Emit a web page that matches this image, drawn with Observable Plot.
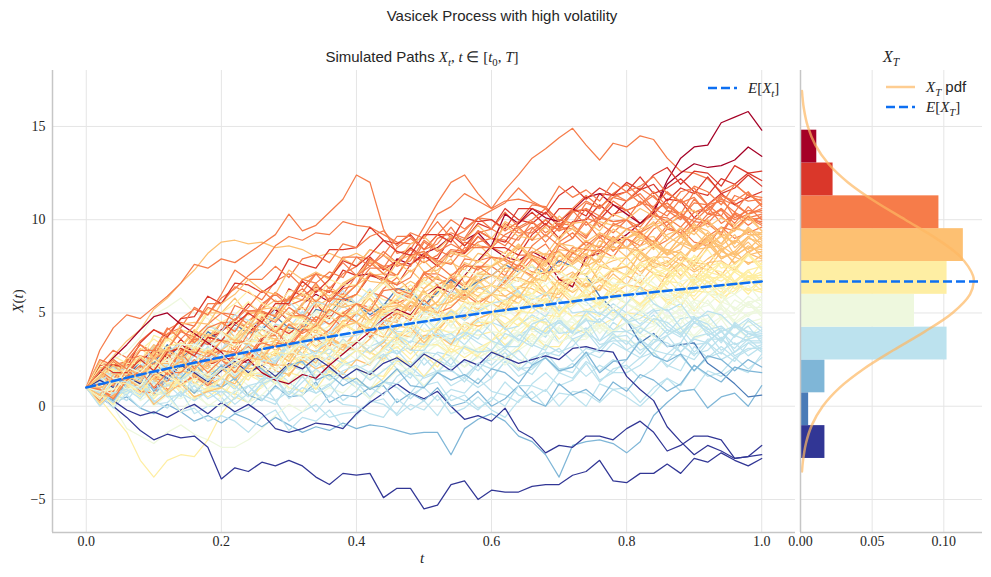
<!DOCTYPE html>
<html>
<head>
<meta charset="utf-8">
<script src="https://cdn.jsdelivr.net/npm/d3@7"></script>
<script src="https://cdn.jsdelivr.net/npm/@observablehq/plot@0.6"></script>
<style>
  body { margin: 0; background: #fff; }
  #fig { position: relative; width: 991px; height: 577px; overflow: hidden; background: #fff; }
  #fig svg { position: absolute; top: 0; }
</style>
</head>
<body>
<div id="fig"></div>
<script>
// Simulated Vasicek paths: X(t) in tenths at t = 0.02, 0.04, ..., 1.00 (all start at x0)
const dt = 0.02;
const x0 = 1;

const pathsDarkBlue = [
  "5 0 -6 -13 -18 -15 -17 -16 -22 -39  -33 -35 -30 -32 -29 -32 -38 -42 -36 -37  -36 -49 -44 -44 -55 -53 -42 -40 -50 -45  -46 -46 -43 -42 -42 -37 -35 -29 -40 -41  -36 -36 -31 -36 -28 -30 -25 -29 -32 -28",
  "8 3 -2 -5 -3 -6 -2 1 -4 2  -3 1 -4 -12 -14 -12 -9 -10 -12 -4  2 7 12 7 4 8 0 -7 -5 -8  -1 -13 -17 -25 -21 -22 -16 -16 -18 -12  -8 -14 -24 -21 -16 -16 -18 -28 -27 -21",
  "14 10 16 12 19 15 22 18 13 19  24 18 22 16 23 20 26 21 15 20  17 23 26 21 28 24 19 25 22 29  26 23 25 27 25 31 32 30 29 16  9 3 -11 -19 -26 -21 -24 -28 -27 -26"
];
const pathsBlue = [
  "18 22 16 24 23 33 26 31 40 35  44 39 41 48 42 41 52 50 58 55  49 54 63 62 54 61 68 62 67 70  76 72 75 71 78 75 70 59 52 46  34 39 32 33 34 23 18 12 5 6"
];
const pathsMidBlue = [
  "7 2 5 -1 -4 1 -3 -8 -5 -9  -4 -7 -11 -6 -10 -14 -11 -13 -9 -12  -10 -11 -13 -15 -14 -14 -26 -12 -7 -4  -8 -16 -19 -26 -38 -21 -19 -18 -20 -25  -19 -5 2 8 9 -1 5 7 0 11",
  "20 13 10 15 6 14 13 7 14 10  15 6 3 11 5 6 13 2 6 5  10 11 2 7 3 10 0 2 8 0  4 11 3 0 12 6 9 3 13 8  17 14 8 12 22 17 13 21 19 18",
  "8 3 13 18 8 16 15 23 15 22  14 23 20 14 22 24 14 17 11 15  9 13 20 11 10 18 14 17 12 20  18 12 22 26 19 21 29 18 24 25  35 27 24 28 19 27 25 19 25 21"
];
const pathsLightBlue = [
  "17 12 6 14 16 7 12 8 14 5  -4 -1 6 3 -8 -3 1 -6 -4 -3  2 4 -5 1 -2 6 -4 -1 5 -2  -6 3 8 0 7 6 0 12 9 10  2 10 15 11 22 16 18 26 20 26",
  "14 21 15 12 24 18 21 17 27 22  24 29 19 14 22 19 11 21 15 13  5 13 10 4 11 13 3 6 -1 3  13 6 4 9 0 8 7 2 9 5  0 7 15 8 9 19 16 21 18 28",
  "8 18 24 17 26 26 22 34 33 35  41 45 37 44 42 51 42 46 54 48  54 48 40 40 48 40 33 39 34 30  26 19 26 29 20 21 27 14 18 18  22 29 22 19 32 26 29 24 34 29",
  "2 6 14 12 2 8 13 7 10 12  21 19 14 25 29 23 30 28 36 30  39 31 28 32 22 29 27 21 27 22  29 20 21 26 18 15 24 19 25 20  26 29 21 28 25 34 25 29 36 30",
  "6 -1 7 10 1 2 8 -4 0 0  4 11 4 1 13 7 10 5 15 10  4 13 12 7 16 19 11 15 10 15  24 21 17 27 31 24 31 29 37 30  35 27 24 33 28 30 37 27 31 31",
  "7 7 18 14 20 14 26 25 21 30  42 36 35 41 34 43 44 39 48 45  41 49 53 44 51 49 43 53 50 50  41 43 49 45 34 38 42 33 35 35  28 36 34 29 37 39 30 34 27 32",
  "2 9 6 -1 6 7 -3 -1 -8 -5  -8 -14 -6 -2 -13 -6 -8 -2 -11 -5  3 1 -4 6 10 3 9 7 15 8  6 2 12 18 11 14 23 13 20 22  15 20 28 27 19 26 32 26 30 33",
  "21 14 12 17 9 17 17 11 19 15  9 18 17 12 21 24 16 20 15 20  14 19 25 17 16 25 21 24 19 28  32 39 33 30 42 36 39 35 45 40  36 30 38 42 33 34 41 29 34 34",
  "15 7 3 12 6 8 15 4 8 8  7 2 13 19 13 16 25 16 22 25  32 35 28 35 33 42 34 38 46 40  31 38 42 37 47 39 41 47 41 45  51 46 39 47 48 38 42 38 43 34",
  "17 21 14 22 20 30 22 27 35 30  37 32 24 26 34 28 21 27 23 20  23 28 20 15 26 18 20 13 22 15  24 16 20 26 20 18 29 26 34 30  26 34 38 29 36 34 28 38 35 35",
  "13 19 10 6 14 12 5 16 11 10  4 11 13 3 8 5 -3 6 1 0  -4 -6 4 -2 3 -5 6 3 -2 5  0 11 11 8 18 23 16 22 18 25  36 30 28 34 27 36 36 31 39 36",
  "19 16 12 22 26 19 26 24 32 25  16 24 28 24 34 27 29 36 30 35  29 35 44 44 36 44 51 46 51 55  57 62 53 48 58 50 51 45 52 45  47 52 43 38 45 42 34 45 39 37",
  "16 6 8 12 3 -1 7 3 8 2  8 11 3 10 7 16 7 11 18 12  10 6 16 21 15 18 26 16 23 25  31 25 23 33 29 32 40 31 37 38  30 34 41 39 29 35 40 33 36 38",
  "16 25 20 19 33 29 34 31 43 40  49 46 42 52 56 49 56 54 62 55  63 54 57 62 55 52 62 58 65 60  69 61 57 61 51 58 56 49 55 50  44 51 52 42 47 44 36 44 39 38",
  "8 2 12 16 9 11 19 8 14 15  11 5 12 15 4 10 7 12 3 8  19 13 12 18 10 19 19 15 23 20  26 30 22 29 27 36 27 31 39 33  42 38 32 34 45 40 35 43 40 39",
  "7 17 21 14 22 22 17 28 26 28  21 30 29 24 32 35 26 31 25 30  25 30 38 30 30 39 36 40 36 45  42 35 44 47 39 40 47 35 40 40  43 49 41 37 48 41 43 37 46 40",
  "0 7 9 4 13 5 6 11 4 8  1 7 15 15 6 13 20 14 19 22  18 27 30 22 29 28 22 32 29 30  39 36 32 42 46 40 46 45 52 46  39 47 45 39 47 49 40 43 37 41",
  "4 14 13 9 18 22 14 19 14 20  25 33 25 23 33 33 28 40 37 38  41 46 38 34 45 37 39 33 41 35  32 32 43 39 45 39 51 50 46 55  64 55 51 55 45 51 49 42 47 42"
];
const pathsPaleGreen = [
  "6 0 -12 -16 -20 -14 -10 -15 -18 -22  -22 -18 -12 -5 1 -3 5 10 7 14  9 20 20 17 28 33 26 32 28 35  26 33 37 32 42 35 36 43 36 41  39 34 44 49 42 45 53 44 49 51",
  "4 10 19 19 11 19 26 21 26 30  28 23 33 38 31 34 42 32 38 40  44 35 31 39 32 33 39 28 31 30  37 40 33 41 39 48 40 45 52 47  40 43 49 40 38 45 40 43 36 44",
  "15 17 8 14 10 18 8 11 17 10  15 22 16 13 26 20 24 19 30 25  37 32 31 38 31 41 40 38 47 45  52 47 40 40 49 42 37 42 38 35  33 28 38 43 36 39 47 37 43 45",
  "16 25 29 37 49 53 58 50 47 39  32 40 38 32 40 43 33 37 30 35  32 26 34 38 27 34 32 38 29 35  43 40 35 45 48 41 47 45 52 45  37 41 49 47 37 43 48 42 45 47",
  "7 0 8 11 0 6 4 9 0 5  17 11 10 16 9 18 19 14 23 20  15 25 25 21 31 35 28 33 29 35  32 41 46 38 46 45 40 51 49 50  55 57 47 53 49 57 47 49 55 48",
  "19 17 13 24 28 22 29 28 36 30  27 26 37 32 38 31 43 41 37 45  44 39 50 55 49 52 61 51 58 60  63 68 60 55 66 58 60 53 62 55  61 52 53 58 49 45 54 49 55 49",
  "21 15 13 19 11 20 20 15 23 20  17 27 32 25 33 33 28 40 38 40  48 43 36 37 47 40 35 41 38 35  29 39 38 34 43 47 39 44 39 45  49 55 48 44 56 49 52 46 56 50",
  "4 8 15 6 5 13 9 12 7 15  20 21 12 17 13 20 10 12 18 10  4 12 19 19 11 19 26 21 26 30  22 30 35 31 42 35 38 45 40 45  43 37 47 52 45 47 55 45 50 52",
  "10 6 18 24 19 23 33 24 32 35  44 41 37 47 51 44 51 49 57 50  54 55 45 50 45 52 42 42 48 40  39 34 44 49 40 48 48 55 48 55  50 58 60 51 57 55 48 57 53 53",
  "16 9 7 17 12 15 23 14 19 20  24 31 23 20 29 28 22 34 30 30  39 37 33 44 48 42 49 48 56 50  43 48 56 55 46 53 59 53 57 60  69 62 58 63 53 60 59 52 59 54",
  "4 11 13 3 8 5 -3 6 1 0  9 2 6 13 7 6 17 15 23 20  24 30 23 19 31 24 27 21 31 25  25 21 33 39 34 38 48 39 47 50  46 44 54 48 53 45 56 53 48 55",
  "5 15 15 11 21 25 18 23 19 25  38 34 34 42 36 47 49 46 56 55  60 67 60 57 67 66 61 73 70 70  65 72 75 65 71 68 61 70 66 65  71 66 59 67 69 60 64 60 65 56",
  "19 15 9 11 22 16 12 19 17 15  20 27 21 18 31 25 29 24 35 30  22 30 35 31 42 35 38 45 40 45  51 54 46 53 50 59 51 54 61 55  52 46 56 60 52 54 61 51 56 57",
  "8 9 21 18 25 20 33 33 30 40  32 35 42 39 29 34 39 31 34 35  32 42 47 40 48 48 43 55 53 55  49 53 60 51 50 58 54 57 52 60  53 62 60 55 63 65 56 60 54 59"
];
const pathsYellow = [
  "4 -5 -14 -29 -38 -29 -26 -27 -18 -4  5 2 11 16 12 20 27 23 30 35  29 35 44 44 37 45 52 47 52 56  55 50 60 65 56 65 64 72 64 72  81 74 70 74 65 72 70 63 70 65",
  "16 24 19 17 31 26 31 27 39 35  42 35 34 44 40 43 52 43 49 50  62 57 56 63 56 66 67 63 72 70  66 59 67 70 61 62 68 56 60 60  68 64 57 59 70 64 59 66 63 61",
  "3 12 10 5 13 16 7 11 5 10  19 17 13 24 28 22 29 28 36 30  29 24 35 40 34 37 46 36 43 45  36 44 48 44 54 48 49 56 50 55  61 63 55 62 59 67 58 62 68 62",
  "5 10 18 10 10 19 16 20 16 25  35 27 24 28 19 26 25 18 25 20  17 16 27 22 28 21 33 31 27 35  40 48 42 40 53 48 52 48 59 55  51 60 63 55 62 61 55 65 62 63",
  "18 23 17 26 25 36 29 35 44 40  34 40 49 49 41 49 56 51 56 60  57 50 58 61 50 56 54 59 50 55  50 60 60 56 66 70 63 68 64 70  76 72 65 74 75 66 71 67 73 64",
  "20 12 9 13 4 11 10 3 10 5  14 6 10 16 10 8 19 16 24 20  17 27 32 25 33 33 28 40 38 40  33 38 46 45 36 43 49 43 47 50  55 62 56 53 66 61 64 60 70 66",
  "15 23 16 14 24 24 19 32 29 30  37 40 33 40 38 47 39 43 51 45  54 51 47 57 61 54 61 59 67 60  67 60 59 69 65 68 77 68 74 75  84 76 73 77 67 74 72 66 72 67",
  "6 15 19 11 18 17 11 22 19 20  19 14 25 30 24 27 36 26 33 35  28 36 34 28 36 38 29 32 26 30  25 31 39 32 32 42 39 44 40 50  49 45 54 60 51 60 60 67 60 68",
  "21 20 18 30 36 31 40 40 50 45  49 56 49 46 58 52 55 50 60 55  45 51 54 48 57 48 49 54 47 50  48 43 53 58 51 54 62 52 58 60  54 64 62 58 67 71 63 67 62 68",
  "6 4 14 8 13 5 16 13 8 15  10 18 21 12 18 16 9 19 15 15  9 15 24 24 16 24 31 26 31 35  43 47 41 49 48 58 51 56 65 60  64 71 63 60 69 67 61 73 69 69",
  "20 18 13 17 29 25 22 31 30 30  26 32 41 34 35 45 43 48 45 55  59 66 59 56 68 62 65 60 70 65  75 68 65 70 61 69 68 62 69 65  61 69 73 64 71 69 63 73 70 70",
  "7 1 10 14 6 8 15 4 9 10  6 17 18 15 26 31 25 31 28 35  45 43 38 42 54 50 47 56 55 55  64 64 60 71 73 67 74 73 81 75  65 71 74 68 77 69 69 75 67 71",
  "20 13 18 25 20 19 31 29 38 35  46 39 37 42 34 42 42 36 44 40  46 49 41 48 45 54 45 49 56 50  54 61 54 51 63 57 60 55 65 60  53 58 67 66 57 64 70 65 69 72",
  "17 27 23 23 38 35 41 39 52 50  55 62 55 52 62 61 56 68 65 65  60 67 70 60 66 63 56 65 61 60  56 55 65 60 65 58 69 67 62 70  77 74 68 77 80 72 77 74 81 73",
  "1 9 13 9 19 12 14 21 15 20  20 16 28 34 29 33 43 34 42 45  40 51 51 48 58 63 56 62 58 65  62 71 76 68 76 75 70 81 79 80  84 86 76 82 77 84 74 76 82 74",
  "17 20 13 20 18 27 19 23 31 25  23 17 26 30 20 27 26 32 24 30  25 31 39 32 32 42 39 44 40 50  44 49 58 57 49 56 63 57 62 65  63 58 68 73 66 69 77 67 73 75",
  "23 19 19 27 21 32 34 31 41 40  36 45 49 41 48 47 41 52 49 50  60 53 58 65 60 59 71 69 78 75  83 78 71 72 82 75 70 76 73 70  74 80 73 69 81 75 77 72 81 76",
  "4 13 12 7 16 19 11 15 10 15  23 27 21 29 28 38 31 36 45 40  46 38 36 45 40 42 50 40 45 45  57 51 50 56 49 58 59 54 63 60  55 60 68 61 61 70 67 72 67 77"
];
const pathsLightOrange = [
  "18 27 35 41 52 58 66 73 82 88  89 87 88 85 86 84 80 82 79 82  78 71 78 81 72 73 79 66 70 70  67 76 81 73 81 80 75 86 84 85  90 91 82 87 83 90 80 82 88 80",
  "8 3 13 18 11 14 22 12 18 20  26 34 29 27 41 36 41 37 49 45  42 41 52 47 53 46 58 56 52 60  54 64 63 59 68 72 64 69 64 70  66 75 78 70 77 76 70 80 77 78",
  "8 19 25 19 28 29 25 38 37 40  47 42 34 35 44 37 32 37 33 30  29 25 36 42 36 40 49 40 47 50  57 60 53 60 58 67 59 63 71 65  76 71 69 76 68 77 78 73 82 79",
  "17 10 9 19 15 18 27 18 24 25  35 33 30 41 46 40 48 47 56 50  45 51 61 61 54 62 70 65 71 75  79 86 78 75 84 83 77 89 85 85  78 86 84 78 86 89 79 83 76 81",
  "13 19 11 7 18 11 13 7 16 10  22 17 16 23 16 26 27 25 32 30  36 44 39 37 51 46 51 47 59 55  52 64 67 60 68 68 63 75 73 75  83 74 77 83 76 73 83 80 86 82",
  "7 19 21 19 31 37 32 39 37 45  37 46 51 48 59 57 56 64 59 65  70 71 62 67 63 70 60 62 68 60  59 55 65 71 62 71 71 79 72 80  72 77 84 82 73 79 84 77 81 83",
  "5 11 19 12 12 22 19 24 20 30  26 25 35 30 35 28 39 37 32 40  53 49 49 57 51 62 64 61 71 70  69 67 78 82 78 82 89 82 87 90  94 86 82 91 84 85 92 81 85 84",
  "14 21 14 11 23 17 20 15 25 20  15 22 32 33 26 35 43 39 45 50  45 55 55 51 61 65 58 63 59 65  59 63 70 61 60 68 64 67 62 70  77 80 73 80 78 87 79 83 91 85",
  "24 21 22 31 26 38 41 39 50 50  58 49 52 57 50 47 57 53 60 55  60 68 61 59 69 69 64 77 74 75  79 86 79 76 88 82 85 80 90 85  92 88 82 91 94 86 91 88 94 86",
  "16 18 10 16 13 21 12 15 22 15  12 22 27 20 28 28 23 35 33 35  29 34 43 42 34 41 48 42 47 50  42 50 55 51 62 55 58 65 60 65  64 60 71 77 72 76 85 76 83 86",
  "21 19 15 19 32 28 26 35 35 35  36 33 46 53 49 54 65 57 66 70  78 75 70 80 83 76 82 80 87 80  75 85 85 81 91 95 88 93 89 95  91 84 92 95 83 89 86 92 82 87",
  "9 4 15 20 14 17 26 16 23 25  18 22 28 19 17 25 20 23 17 25  22 32 37 30 38 38 33 45 43 45  51 59 54 52 66 61 66 62 74 70  82 77 75 82 75 85 86 81 90 88",
  "11 8 20 27 20 30 32 41 36 45  40 50 50 46 56 60 53 58 54 60  72 67 66 73 66 76 77 73 82 80  72 76 83 81 71 77 82 75 78 80  86 89 81 88 85 93 84 88 95 89",
  "7 17 22 15 23 23 18 30 28 30  35 45 38 36 44 44 39 52 49 50  58 50 53 59 52 50 60 57 64 60  70 69 66 78 83 78 86 86 95 90  93 99 91 87 98 91 93 87 96 90",
  "2 6 13 11 1 7 12 5 8 10  24 20 21 29 24 35 38 35 46 45  52 46 45 56 52 56 65 57 63 65  63 58 68 73 66 69 77 67 73 75  70 80 80 76 86 91 83 89 84 91",
  "10 12 26 24 33 29 44 45 44 55  60 68 62 60 73 68 72 68 79 75  84 81 77 87 91 84 91 89 97 90  99 95 89 91 102 96 92 99 97 95  90 97 100 91 97 94 87 97 92 92",
  "6 5 15 10 15 8 19 17 12 20  15 21 29 22 22 32 29 34 30 40  40 37 49 56 51 56 66 58 66 70  76 79 71 78 75 84 75 79 86 80  89 87 81 84 96 91 87 95 94 93",
  "6 17 18 15 26 31 25 31 28 35  32 42 47 40 48 48 43 55 53 55  46 53 57 52 62 54 56 62 56 60  66 74 69 67 81 76 81 77 89 85  83 78 87 92 85 88 96 85 91 93",
  "16 25 19 18 29 30 26 40 38 40  35 42 52 53 46 55 63 59 65 70  67 66 77 72 78 71 83 81 77 85  97 91 90 96 89 98 99 94 103 100  106 102 95 104 105 96 101 97 103 94",
  "15 22 16 13 26 20 24 19 30 25  32 26 25 36 32 36 45 37 43 45  41 53 54 52 63 69 63 70 67 75  80 87 80 77 87 86 81 93 90 90  95 98 89 96 92 100 91 94 101 94"
];
const pathsOrange = [
  "30 42 49 47 53 59 66 76 74 79  77 82 87 92 103 94 97 104 111 124  120 95 82 84 96 109 120 124 114 106  116 124 133 138 144 149 140 132 141 139  145 143 133 126 125 122 115 119 113 110",
  "22 30 26 35 41 38 47 52 49 58  63 70 76 86 91 89 93 92 99 97  96 92 88 87 91 103 107 114 110 106  110 111 109 106 97 104 110 106 114 119  112 105 109 103 99 106 111 108 103 105",
  "16 24 18 16 27 27 23 36 34 35  30 41 41 38 48 53 46 52 48 55  53 63 69 62 71 71 67 79 78 80  78 73 82 87 77 85 84 91 83 90  83 87 95 93 84 91 96 90 93 96",
  "1 8 12 7 17 9 11 17 11 15  21 29 24 22 36 31 36 32 44 40  48 52 46 54 53 63 56 61 70 65  74 74 70 81 83 77 84 83 91 85  93 85 89 95 88 86 96 94 101 97",
  "7 14 24 18 20 31 30 36 34 45  45 42 54 61 56 61 71 63 71 75  84 81 75 78 89 84 80 88 86 85  82 91 96 88 96 95 90 101 99 100  110 103 99 104 95 103 102 95 102 98",
  "5 16 16 13 23 28 21 27 23 30  29 27 35 41 32 41 41 49 42 50  61 59 55 59 72 68 66 75 75 75  70 81 81 78 88 93 86 92 88 95  98 105 96 93 101 99 93 104 100 99",
  "25 22 24 33 29 41 45 43 55 55  64 61 57 67 71 64 71 69 77 70  77 71 70 81 77 81 90 82 88 90  89 84 95 100 94 97 106 96 103 105  108 113 105 100 111 103 105 98 107 100",
  "19 11 15 21 15 13 24 21 29 25  20 27 37 38 31 40 48 44 50 55  60 67 61 58 71 65 69 64 75 70  65 71 79 72 72 82 79 84 80 90  86 95 99 91 99 98 92 103 100 101",
  "3 13 19 17 29 24 28 37 33 40  54 51 52 61 56 68 71 69 80 80  79 74 85 90 84 87 96 86 93 95  91 89 99 93 98 90 101 98 93 100  93 102 101 96 104 107 98 103 97 102",
  "4 9 16 8 7 16 12 16 11 20  28 32 26 34 33 43 36 41 50 45  37 45 50 46 57 50 53 60 55 60  67 76 72 71 86 82 88 85 98 95  93 88 97 102 95 98 106 95 101 103",
  "6 14 25 27 21 31 40 37 44 50  49 44 55 60 54 57 66 56 63 65  74 74 70 81 83 77 84 83 91 85  98 93 93 100 94 104 106 102 112 110  114 106 102 111 104 105 112 101 105 104",
  "8 8 20 16 23 17 30 29 26 35  34 35 48 45 53 48 62 62 60 70  75 83 77 75 88 83 87 83 94 90  86 95 99 91 98 97 91 102 99 100  93 97 105 103 94 101 106 100 103 106",
  "12 11 24 33 27 39 42 53 49 60  73 68 68 75 69 79 81 77 87 85  91 94 86 93 90 99 90 94 101 95  104 96 100 106 100 98 109 106 114 110  117 112 106 115 117 108 113 110 115 107",
  "9 5 16 22 16 20 29 20 27 30  28 39 45 39 48 49 45 58 57 60  71 69 65 69 82 78 76 85 85 85  92 96 89 97 95 105 97 102 110 105  108 115 107 103 115 108 110 104 114 108",
  "19 14 15 27 25 30 41 34 42 45  40 51 51 48 58 63 56 62 58 65  79 75 76 84 79 90 93 90 101 100  94 99 108 107 99 106 113 107 112 115  109 107 115 109 112 103 113 109 103 109",
  "9 4 14 19 10 18 18 25 18 25  18 28 34 32 44 39 43 52 48 55  51 62 63 60 71 76 70 76 73 80  79 75 86 92 86 90 99 90 97 100  96 105 109 101 109 108 102 113 110 111",
  "19 25 20 30 30 42 36 43 53 50  46 53 62 56 57 68 66 72 69 80  75 81 91 91 84 92 100 95 101 105  109 117 110 106 118 112 116 110 120 115  118 123 114 110 118 115 108 119 113 112"
];
const pathsRed = [
  "10 7 19 26 21 26 36 28 36 40  46 55 50 49 63 59 64 61 73 70  80 73 78 85 80 79 91 89 98 95  106 100 98 104 96 105 105 100 108 105  98 103 111 110 101 108 114 108 112 115",
  "4 9 18 17 9 16 23 17 22 25  26 23 36 43 39 44 55 47 56 60  70 68 65 76 81 75 83 82 91 85  85 81 92 98 90 99 100 108 102 110  116 119 110 117 114 123 114 117 124 118",
  "22 22 21 34 41 37 47 48 59 55  66 65 61 66 79 76 74 84 84 85  96 89 87 92 84 92 92 86 94 90  88 98 104 97 106 106 102 114 113 115  123 114 117 122 115 113 122 119 125 121",
  "23 18 18 25 19 29 31 27 37 35  44 50 45 55 55 67 61 68 78 75  81 89 83 81 92 92 88 101 99 100  95 106 106 103 113 118 111 117 113 120  116 124 128 119 126 125 118 129 125 126"
];
const pathsDarkRed = [
  "16 21 15 24 30 26 33 29 36 41  45 39 47 52 46 55 60 56 64 70  71 67 79 76 82 85 91 89 93 85  80 78 83 79 68 64 80 82 87 92  98 105 121 133 139 140 152 155 158 148",
  "18 26 33 41 48 50 44 39 34 29  21 25 18 14 12 17 15 22 28 34  40 47 52 49 58 64 61 70 78 86  103 98 106 101 99 105 112 114 108 103  98 104 119 125 130 128 129 132 139 134"
];

// RdYlBu (reversed) sampled at ten steps, one per histogram bin of X_T
const binColors = ["#313695", "#4a7bb7", "#7fb6d7", "#bce2ee", "#eef8de",
                   "#feeea3", "#fdc072", "#f67c4a", "#da372a", "#a50026"];

// Expected value E[X_t]
const meanTimes = [0, 0.1, 0.2, 0.3, 0.4, 0.5, 0.6, 0.7, 0.8, 0.9, 1.0];
const meanValues = [1.00, 1.86, 2.63, 3.33, 3.97, 4.54, 5.06, 5.53, 5.96, 6.34, 6.69];
const meanAtT = 6.69;

// Density of X_T
const pdfLevels = [-3.5, -3, -2, -1, 0, 1, 2, 3, 4, 5, 6, 6.69, 7, 8, 9, 10, 11, 12, 13, 14, 15, 16, 16.9];
const pdfDensity = [0.00103, 0.00162, 0.00377, 0.00800, 0.01549, 0.02735, 0.04404, 0.06471, 0.08672,
                    0.10604, 0.11829, 0.12090, 0.12037, 0.11174, 0.09463, 0.07311, 0.05153, 0.03313,
                    0.01943, 0.01040, 0.00508, 0.00226, 0.00101];

const xTicks = [0, 0.2, 0.4, 0.6, 0.8, 1.0];
const yTicks = [-5, 0, 5, 10, 15];
const densityTicks = [0, 0.05, 0.10];

// ---------------------------------------------------------------------------
const groups = [pathsDarkBlue, pathsBlue, pathsMidBlue, pathsLightBlue, pathsPaleGreen,
                pathsYellow, pathsLightOrange, pathsOrange, pathsRed, pathsDarkRed];

const paths = [];
groups.forEach((g, b) => g.forEach((s, j) => {
  const tenths = s.trim().split(/\s+/).map(Number);
  if (tenths.length !== 50) throw new Error(`group ${b} path ${j} has ${tenths.length} values`);
  // spread every group evenly through the drawing order
  paths.push({tenths, key: (j + 0.5) / g.length + b * 0.0137});
}));
paths.sort((a, b) => a.key - b.key);

const N = paths.length;
const nBins = 10;
const finalT = paths.map(p => p.tenths[p.tenths.length - 1]);
const loT = d3.min(finalT), hiT = d3.max(finalT);
const binOf = v => Math.min(nBins - 1, Math.floor((v - loT) * nBins / (hiT - loT)));
const binWidth = (hiT - loT) / 10 / nBins;

const rows = [];
paths.forEach((p, i) => {
  const c = binColors[binOf(finalT[i])];
  rows.push({id: i, t: 0, x: x0, c});
  p.tenths.forEach((v, k) => rows.push({id: i, t: (k + 1) * dt, x: v / 10, c}));
});

const counts = new Array(nBins).fill(0);
finalT.forEach(v => counts[binOf(v)]++);
const bars = counts.map((n, k) => ({
  y1: loT / 10 + k * binWidth, y2: loT / 10 + (k + 1) * binWidth,
  d0: 0, d: n / (N * binWidth), c: binColors[k]
}));

const meanRows = meanTimes.map((t, i) => ({t, m: meanValues[i]}));
const pdfRows = pdfLevels.map((y, i) => ({y, d: pdfDensity[i]}));

const yDomain = [-6.77, 18.0];
const blue = "#0d6ff2";
const gridColor = "#e5e5e5";
const spineColor = "#c6c6c6";
const axisStyle = {fontFamily: "'Liberation Serif', serif", fontSize: "14px", color: "#262626", background: "transparent"};

const left = Plot.plot({
  width: 797, height: 577,
  marginLeft: 52, marginRight: 2, marginTop: 70, marginBottom: 45,
  x: {domain: [-0.05, 1.05], ticks: xTicks, tickFormat: d => d.toFixed(1), tickSize: 0, tickPadding: 4, label: null},
  y: {domain: yDomain, ticks: yTicks, tickSize: 0, tickPadding: 7, label: null},
  color: {type: "identity"},
  style: axisStyle,
  marks: [
    Plot.ruleX(xTicks, {stroke: gridColor, strokeWidth: 1}),
    Plot.ruleY(yTicks, {stroke: gridColor, strokeWidth: 1}),
    Plot.ruleX([-0.05], {stroke: spineColor, strokeWidth: 1.5}),
    Plot.ruleY([yDomain[0]], {stroke: spineColor, strokeWidth: 1.5}),
    Plot.line(rows, {x: "t", y: "x", z: "id", stroke: "c", strokeWidth: 1.25}),
    Plot.line(meanRows, {x: "t", y: "m", stroke: blue, strokeWidth: 2.5, strokeDasharray: "9,4", curve: "monotone-x"})
  ]
});

const right = Plot.plot({
  width: 216, height: 577,
  marginLeft: 25, marginRight: 9, marginTop: 70, marginBottom: 45,
  x: {domain: [0, 0.127], ticks: densityTicks, tickFormat: d => d.toFixed(2), tickSize: 0, tickPadding: 4, label: null},
  y: {domain: yDomain, axis: null},
  color: {type: "identity"},
  style: axisStyle,
  marks: [
    Plot.ruleX(densityTicks, {stroke: gridColor, strokeWidth: 1}),
    Plot.ruleY(yTicks, {stroke: gridColor, strokeWidth: 1}),
    Plot.rectX(bars, {x1: "d0", x2: "d", y1: "y1", y2: "y2", fill: "c", inset: 0}),
    Plot.line(pdfRows, {x: "d", y: "y", stroke: "#fdb862", strokeOpacity: 0.7, strokeWidth: 2.5, curve: "catmull-rom"}),
    Plot.ruleY([meanAtT], {stroke: blue, strokeWidth: 2.5, strokeDasharray: "9,4"}),
    Plot.ruleX([0], {stroke: spineColor, strokeWidth: 1.5}),
    Plot.ruleY([yDomain[0]], {stroke: spineColor, strokeWidth: 1.5})
  ]
});

const fig = document.getElementById("fig");
left.style.left = "0px";
right.style.left = "775px";
fig.appendChild(left);
fig.appendChild(right);

// Titles, axis labels and legends
const ov = d3.select(fig).append("svg")
  .attr("width", 991).attr("height", 577)
  .style("left", "0px").style("pointer-events", "none");

const SANS = "'Liberation Sans', sans-serif";
const SERIF = "'Liberation Serif', serif";
const ink = "#262626";

function richText(x, y, anchor, parts, size, transform) {
  const t = ov.append("text").attr("x", x).attr("y", y).attr("text-anchor", anchor)
    .attr("fill", ink).style("font-size", size + "px");
  if (transform) t.attr("transform", transform);
  let shift = 0;
  parts.forEach(([txt, kind]) => {
    const s = t.append("tspan").text(txt);
    const sub = kind.startsWith("sub");
    const dy = (sub ? 4 : 0) - shift;
    if (dy) s.attr("dy", dy);
    shift = sub ? 4 : 0;
    s.style("font-family", kind === "sans" ? SANS : SERIF)
     .style("font-style", kind.endsWith("it") ? "italic" : "normal")
     .style("font-size", (sub ? size * 0.72 : size) + "px");
  });
  return t;
}

richText(502, 21, "middle", [["Vasicek Process with high volatility", "sans"]], 15);
richText(422, 62, "middle", [
  ["Simulated Paths ", "sans"], ["X", "it"], ["t", "sub-it"], [", ", "rm"], ["t", "it"],
  [" \u2208 [", "rm"], ["t", "it"], ["0", "sub-rm"], [", ", "rm"], ["T", "it"], ["]", "rm"]
], 15);
richText(891, 62, "middle", [["X", "it"], ["T", "sub-it"]], 16);
richText(422, 563, "middle", [["t", "it"]], 15);
richText(0, 0, "middle", [["X", "it"], ["(", "rm"], ["t", "it"], [")", "rm"]], 15,
  "translate(23,301) rotate(-90)");

// legend of the paths panel
ov.append("line").attr("x1", 708).attr("x2", 737).attr("y1", 88).attr("y2", 88)
  .attr("stroke", blue).attr("stroke-width", 2.5).attr("stroke-dasharray", "9,4");
richText(748, 93, "start", [["E", "it"], ["[", "rm"], ["X", "it"], ["t", "sub-it"], ["]", "rm"]], 15);

// legend of the X_T panel
ov.append("line").attr("x1", 886).attr("x2", 915).attr("y1", 87).attr("y2", 87)
  .attr("stroke", "#fdb862").attr("stroke-opacity", 0.7).attr("stroke-width", 2.5);
richText(926, 92, "start", [["X", "it"], ["T", "sub-it"], [" pdf", "sans"]], 15);
ov.append("line").attr("x1", 886).attr("x2", 915).attr("y1", 107).attr("y2", 107)
  .attr("stroke", blue).attr("stroke-width", 2.5).attr("stroke-dasharray", "9,4");
richText(926, 112, "start", [["E", "it"], ["[", "rm"], ["X", "it"], ["T", "sub-it"], ["]", "rm"]], 15);
</script>
</body>
</html>
